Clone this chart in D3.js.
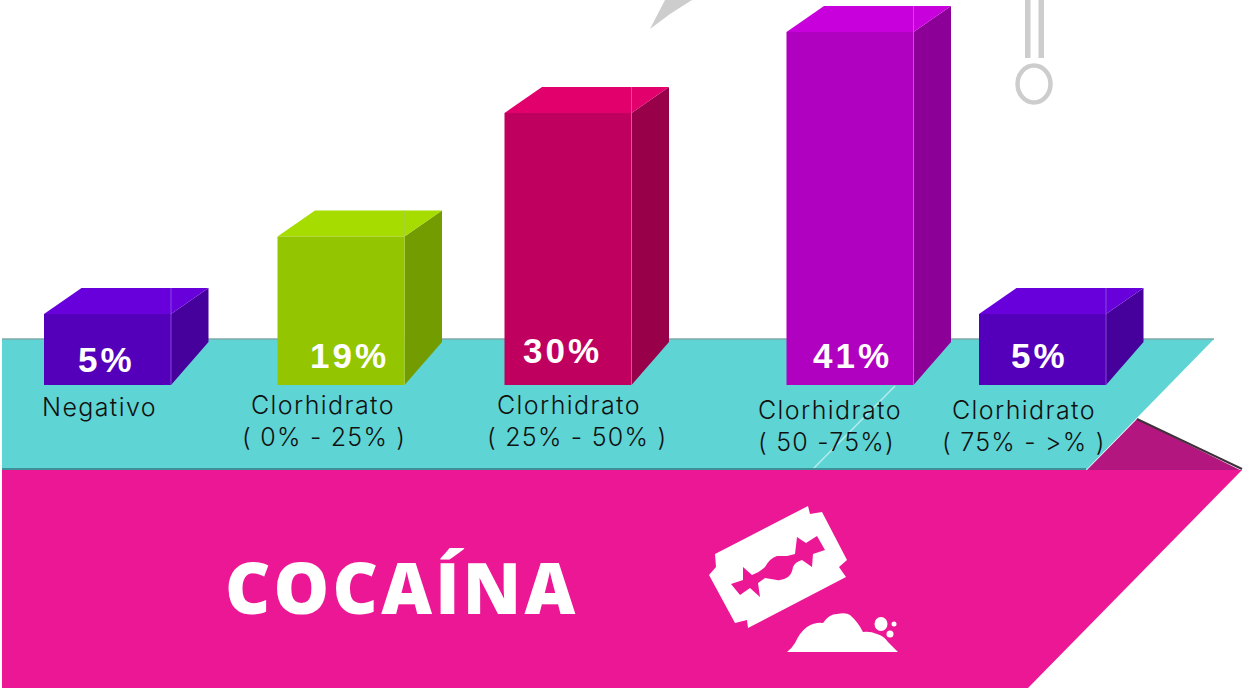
<!DOCTYPE html>
<html>
<head>
<meta charset="utf-8">
<script src="https://cdn.jsdelivr.net/npm/d3@7"></script>
<style>
	html, body { margin: 0; padding: 0; background: #fff; overflow: hidden; }
	svg { display: block; }
</style>
</head>
<body>
<div id="chart"></div>
<script>
(function () {
	// values
	var categories = ['Negativo', 'Clorhidrato 0-25', 'Clorhidrato 25-50', 'Clorhidrato 50-75', 'Clorhidrato 75+'];
	var values = [5, 19, 30, 41, 5];
	var valueLabels = ['5%', '19%', '30%', '41%', '5%'];
	var labelLines = [
		['Negativo'],
		['Clorhidrato', '( 0% - 25% )'],
		['Clorhidrato', '( 25% - 50% )'],
		['Clorhidrato', '( 50 -75%)'],
		['Clorhidrato', '( 75% - >% )']
	];
	var frontColors = ['#5400ba', '#93c500', '#c0005e', '#b000c0', '#5400ba'];
	var topColors = ['#6800dc', '#a6dc00', '#e2006c', '#c800dc', '#6800dc'];
	var sideColors = ['#46009c', '#739c00', '#98004a', '#8c0098', '#46009c'];
	var edgeColors = ['#8f5be0', '#a9cc40', '#e85a9a', '#cf55dc', '#8f5be0'];

	var width = 1251, height = 689;
	var baseline = 385, barWidth = 127, depthX = 37.5, depthY = 26, sideDrop = 43;

	// the source graphic is not to scale, so the scales follow what is drawn
	var x = d3.scaleOrdinal().domain(categories).range([44, 277.5, 504.5, 786.5, 979]);
	var y = d3.scaleLinear().domain([5, 19, 30, 41]).range([314, 236.5, 113, 32]);

	var svg = d3.select('#chart').append('svg')
		.attr('width', width).attr('height', height);

	function poly(points) {
		return d3.line()(points) + 'Z';
	}

	// grey scraps of the background drawing
	var grey = svg.append('g').attr('fill', '#cdcdcd');
	grey.append('path').attr('d', 'M650 29 L665 0 L692 0 L670 14 Z');
	grey.append('rect').attr('x', 1025).attr('y', 0).attr('width', 5.5).attr('height', 58);
	grey.append('rect').attr('x', 1038.5).attr('y', 0).attr('width', 5.5).attr('height', 58);
	svg.append('ellipse')
		.attr('cx', 1034).attr('cy', 84).attr('rx', 16.5).attr('ry', 18.5)
		.attr('fill', 'none').attr('stroke', '#cdcdcd').attr('stroke-width', 4.5);

	// floor
	svg.append('path')
		.attr('d', poly([[2, 339], [1214, 339], [1086, 470], [2, 470]]))
		.attr('fill', '#5fd4d4');
	svg.append('path')
		.attr('d', d3.line()([[2, 339], [1214, 339]]))
		.attr('stroke', '#7fa8a8').attr('stroke-width', 1.5).attr('fill', 'none');
	svg.append('path')
		.attr('d', d3.line()([[813, 469], [895, 386]]))
		.attr('stroke', '#b5ecec').attr('stroke-width', 1.5).attr('fill', 'none');

	// banner
	svg.append('path')
		.attr('d', poly([[1086, 471], [1137, 419], [1242, 471]]))
		.attr('fill', '#b3177f');
	svg.append('path')
		.attr('d', d3.line()([[1137, 419], [1242, 469]]))
		.attr('stroke', '#40303a').attr('stroke-width', 2).attr('fill', 'none');
	svg.append('path')
		.attr('d', poly([[2, 470], [1242, 470], [1028, 688], [2, 688]]))
		.attr('fill', '#ec1795');
	svg.append('path')
		.attr('d', d3.line()([[2, 469], [1086, 469]]))
		.attr('stroke', '#3f8f96').attr('stroke-width', 2).attr('fill', 'none');

	svg.append('text')
		.attr('x', 225).attr('y', 614)
		.attr('font-family', '"Open Sans", sans-serif')
		.attr('font-weight', 800).attr('font-size', 70)
		.attr('letter-spacing', 3.2)
		.attr('fill', '#fff')
		.text('COCAÍNA');

	// bars
	var rows = categories.map(function (c, i) {
		return { category: c, value: values[i], label: valueLabels[i], lines: labelLines[i], i: i };
	});
	var labelX = [42, 251, 497, 758, 952];
	var labelY = [416, 414, 414, 419, 419];
	var subX = [0, 242, 487, 758, 942];
	var valueX = [78, 310, 523, 813, 1011];
	var valueY = [372, 368, 363, 368, 368];

	var bars = svg.selectAll('g.bar').data(rows).enter().append('g').attr('class', 'bar');

	bars.append('path')
		.attr('fill', function (d) { return sideColors[d.i]; })
		.attr('d', function (d) {
			var right = x(d.category) + barWidth, top = y(d.value);
			return poly([[right, top], [right + depthX, top - depthY], [right + depthX, baseline - sideDrop], [right, baseline]]);
		});
	bars.append('path')
		.attr('fill', function (d) { return topColors[d.i]; })
		.attr('d', function (d) {
			var left = x(d.category), top = y(d.value);
			return poly([[left, top], [left + depthX, top - depthY], [left + barWidth + depthX, top - depthY], [left + barWidth, top]]);
		});
	bars.append('rect')
		.attr('fill', function (d) { return frontColors[d.i]; })
		.attr('x', function (d) { return x(d.category); })
		.attr('y', function (d) { return y(d.value); })
		.attr('width', barWidth)
		.attr('height', function (d) { return baseline - y(d.value); });
	// thin light seam where front meets side
	bars.append('path')
		.attr('stroke', function (d) { return edgeColors[d.i]; })
		.attr('stroke-width', 0.8).attr('fill', 'none')
		.attr('d', function (d) {
			var right = x(d.category) + barWidth;
			return d3.line()([[right, y(d.value) - depthY], [right, baseline]]);
		});

	bars.append('text')
		.attr('x', function (d) { return valueX[d.i]; })
		.attr('y', function (d) { return valueY[d.i]; })
		.attr('font-family', '"Liberation Sans", sans-serif')
		.attr('font-weight', 700).attr('font-size', 35)
		.attr('letter-spacing', 3)
		.attr('fill', '#fff')
		.text(function (d) { return d.label; });

	bars.each(function (d) {
		var g = d3.select(this);
		d.lines.forEach(function (line, k) {
			g.append('text')
				.attr('x', k === 0 ? labelX[d.i] : subX[d.i])
				.attr('y', labelY[d.i] + k * 32)
				.attr('font-family', 'Inter, sans-serif')
				.attr('font-weight', 300).attr('font-size', 25)
				.attr('letter-spacing', k === 0 ? 1.4 : 1.25)
				.attr('fill', '#111')
				.text(line);
		});
	});

	// razor blade and powder
	var icon = svg.append('g').attr('fill', '#fff');
	icon.append('path').attr('d', 'M709 575 L716 567 L715 554 L808 506 L810 514 L822 512 L847 560 L839 567 L846 577 L748 628 L747 620 L735 623 Z');
	svg.append('path').attr('fill', '#ec1795')
		.attr('d', 'M731 584 L743 580 L743 567 L752 575 Q760 572 765 567 Q770 558 777 556 L787 556 L795 554 L797 537 L806 543 L817 536 L825 550 L813 554 L812 567 L802 560 Q795 562 793 567 Q792 574 788 577 Q782 581 777 580 L765 578 L758 583 L760 597 L750 588 L740 595 Z');
	icon.append('path').attr('d', 'M787 652 Q792 648 795 643 Q800 632 807 627 Q815 622 823 623 Q829 614 837 614 Q846 612 850 615 Q858 622 863 632 Q870 631 877 634 Q884 636 888 642 L898 652 Z');
	icon.append('ellipse').attr('cx', 881).attr('cy', 624).attr('rx', 6.5).attr('ry', 7);
	icon.append('circle').attr('cx', 894).attr('cy', 624).attr('r', 2.5);
	icon.append('circle').attr('cx', 890).attr('cy', 634).attr('r', 3.5);
})();
</script>
</body>
</html>
